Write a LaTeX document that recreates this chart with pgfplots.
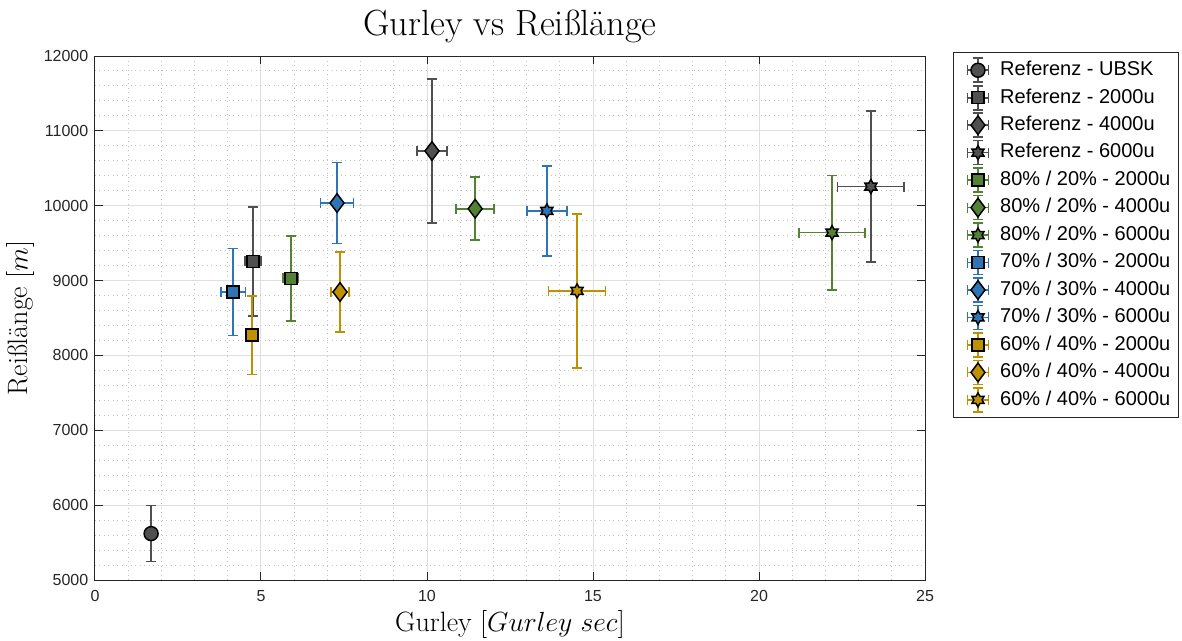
\documentclass[border=0pt]{standalone}
\usepackage{fontspec}
\newfontfamily\sansf{Liberation Sans}
\usepackage{pgfplots}
\pgfplotsset{compat=1.18}
\definecolor{cRef}{RGB}{80,80,80}
\definecolor{cGreen}{RGB}{84,130,53}
\definecolor{cBlue}{RGB}{46,117,182}
\definecolor{cGold}{RGB}{191,144,0}
\definecolor{cAx}{RGB}{38,38,38}

% six-pointed star (hexagram)
\pgfdeclareplotmark{hexagram}{%
  \pgfpathmoveto{\pgfpointpolar{90}{\pgfplotmarksize}}%
  \pgfpathlineto{\pgfpointpolar{120}{0.577\pgfplotmarksize}}%
  \pgfpathlineto{\pgfpointpolar{150}{\pgfplotmarksize}}%
  \pgfpathlineto{\pgfpointpolar{180}{0.577\pgfplotmarksize}}%
  \pgfpathlineto{\pgfpointpolar{210}{\pgfplotmarksize}}%
  \pgfpathlineto{\pgfpointpolar{240}{0.577\pgfplotmarksize}}%
  \pgfpathlineto{\pgfpointpolar{270}{\pgfplotmarksize}}%
  \pgfpathlineto{\pgfpointpolar{300}{0.577\pgfplotmarksize}}%
  \pgfpathlineto{\pgfpointpolar{330}{\pgfplotmarksize}}%
  \pgfpathlineto{\pgfpointpolar{0}{0.577\pgfplotmarksize}}%
  \pgfpathlineto{\pgfpointpolar{30}{\pgfplotmarksize}}%
  \pgfpathlineto{\pgfpointpolar{60}{0.577\pgfplotmarksize}}%
  \pgfpathclose
  \pgfusepathqfillstroke}

\pgfplotsset{
  ser/.style n args={4}{% error colour, fill colour, mark, mark size
    color=#1, only marks, mark=#3, mark size=#4,
    mark options={draw=black, fill=#2, line width=1.1pt, solid},
    error bars/x dir=both, error bars/x explicit,
    error bars/y dir=both, error bars/y explicit,
    error bars/error bar style={line width=1.2pt, draw=#1, solid},
    error bars/error mark options={rotate=90, line width=1.2pt, draw=#1, mark size=3.75pt, solid},
    legend image code/.code={
      \draw[overlay, line width=1.2pt, draw=#1]
        (15pt,-9pt) -- (15pt,9pt)
        (11.25pt,-9pt) -- (18.75pt,-9pt) (11.25pt,9pt) -- (18.75pt,9pt)
        (7pt,0pt) -- (23pt,0pt)
        (7pt,-3.75pt) -- (7pt,3.75pt) (23pt,-3.75pt) -- (23pt,3.75pt);
      \path (0pt,-5pt) (28pt,5pt);
      \draw[##1, mark repeat=1] plot coordinates {(15pt,0pt)};
    },
  }
}

\begin{document}
\begin{tikzpicture}
% page frame: the figure margins round the axis box
\path[use as bounding box] (-71.25pt,-45pt) rectangle (815.25pt,435pt);
\begin{axis}[
  at={(0pt,0pt)}, anchor=south west,
  scale only axis, width=622.5pt, height=393pt,
  xmin=0, xmax=25, ymin=5000, ymax=12000,
  xtick={0,5,...,25}, ytick={5000,6000,...,12000},
  scaled y ticks=false,
  minor x tick num=4, minor y tick num=4,
  tick align=inside, major tick length=6pt, minor tick length=0pt,
  major tick style={cAx, line width=0.75pt},
  axis line style={cAx, line width=0.75pt},
  grid=both,
  major grid style={draw={rgb,255:red,223;green,223;blue,223}, line width=0.75pt},
  minor grid style={draw={rgb,255:red,195;green,195;blue,195}, line width=0.75pt,
                    dash pattern=on 0.75pt off 2.6pt},
  tick label style={font=\sansf\fontsize{12}{14}\selectfont, text=cAx},
  xticklabel style={yshift=-4pt},
  yticklabel style={xshift=-1.5pt},
  /pgf/number format/assume math mode=true,
  /pgf/number format/set thousands separator={},
  title={Gurley vs Reißlänge},
  title style={font=\fontsize{27.3}{32}\selectfont, yshift=0pt},
  xlabel={Gurley [$Gurley\ sec$]},
  ylabel={Reißlänge [$m$]},
  label style={font=\fontsize{21}{25}\selectfont},
  legend cell align=left,
  legend style={at={(1.0337,1.0076)}, anchor=north west,
    draw=cAx, line width=0.75pt, inner sep=3pt,
    font=\sansf\fontsize{15}{18}\selectfont,
    nodes={text height=11pt, text depth=3pt, inner sep=3.3pt},
    row sep=0pt, column sep=0pt},
]
\addplot[ser={cRef}{cRef}{*}{5.25pt}]
  coordinates {(1.69,5620) +- (0,375)};
\addlegendentry{Referenz - UBSK}
\addplot[ser={cRef}{cRef}{square*}{4.5pt}]
  coordinates {(4.76,9255) +- (0.24,728)};
\addlegendentry{Referenz - 2000u}
\addplot[ser={cRef}{cRef}{diamond*}{7pt}]
  coordinates {(10.15,10731) +- (0.45,962)};
\addlegendentry{Referenz - 4000u}
\addplot[ser={cRef}{cRef}{hexagram}{5.25pt}]
  coordinates {(23.37,10256) +- (1.0,1008)};
\addlegendentry{Referenz - 6000u}
\addplot[ser={cGreen}{cGreen}{square*}{4.5pt}]
  coordinates {(5.90,9030) +- (0.23,568)};
\addlegendentry{80\% / 20\% - 2000u}
\addplot[ser={cGreen}{cGreen}{diamond*}{7pt}]
  coordinates {(11.45,9960) +- (0.57,421)};
\addlegendentry{80\% / 20\% - 4000u}
\addplot[ser={cGreen}{cGreen}{hexagram}{5.25pt}]
  coordinates {(22.20,9640) +- (1.0,762)};
\addlegendentry{80\% / 20\% - 6000u}
\addplot[ser={cBlue}{cBlue}{square*}{4.5pt}]
  coordinates {(4.16,8845) +- (0.37,581)};
\addlegendentry{70\% / 30\% - 2000u}
\addplot[ser={cBlue}{cBlue}{diamond*}{7pt}]
  coordinates {(7.29,10036) +- (0.50,541)};
\addlegendentry{70\% / 30\% - 4000u}
\addplot[ser={cBlue}{cBlue}{hexagram}{5.25pt}]
  coordinates {(13.61,9930) +- (0.60,601)};
\addlegendentry{70\% / 30\% - 6000u}
\addplot[ser={cGold}{cGold}{square*}{4.5pt}]
  coordinates {(4.73,8270) +- (0.10,527)};
\addlegendentry{60\% / 40\% - 2000u}
\addplot[ser={cGold}{cGold}{diamond*}{7pt}]
  coordinates {(7.38,8847) +- (0.27,535)};
\addlegendentry{60\% / 40\% - 4000u}
\addplot[ser={cGold}{cGold}{hexagram}{5.25pt}]
  coordinates {(14.52,8862) +- (0.86,1028)};
\addlegendentry{60\% / 40\% - 6000u}
\end{axis}
\end{tikzpicture}
\end{document}
